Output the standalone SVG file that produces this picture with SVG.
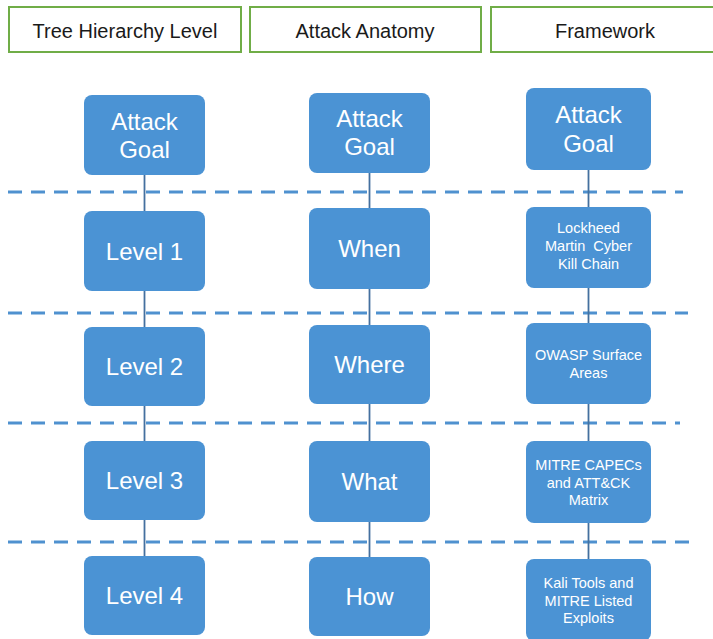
<svg xmlns="http://www.w3.org/2000/svg" width="713" height="639" viewBox="0 0 713 639">
<style>
.hdr{fill:#fff;stroke:#70ad47;stroke-width:2}
.ht{font-family:"Liberation Sans",Arial,sans-serif;font-size:20px;fill:#1a1a1a;text-anchor:middle}
.box{fill:#4b93d4}
.bt{font-family:"Liberation Sans",Arial,sans-serif;font-size:24px;fill:#fff;text-anchor:middle}
.st{font-family:"Liberation Sans",Arial,sans-serif;font-size:14.5px;fill:#fff;text-anchor:middle}
.dash{stroke:#4f91cf;stroke-width:3;stroke-dasharray:14 9;fill:none}
.conn{stroke:#44709f;stroke-width:1.8;fill:none}
</style>
<rect width="713" height="639" fill="#fff"/>
<g id="headers">
<g id="h1"><rect class="hdr" x="9" y="7" width="232" height="45"/><text class="ht" x="125" y="38">Tree Hierarchy Level</text></g>
<g id="h2"><rect class="hdr" x="250" y="7" width="231" height="45"/><text class="ht" x="365" y="38">Attack Anatomy</text></g>
<g id="h3"><rect class="hdr" x="491" y="7" width="240" height="45"/><text class="ht" x="605" y="38">Framework</text></g>
</g>
<g id="separators">
<line class="dash" x1="8" y1="192" x2="683" y2="192"/>
<line class="dash" x1="8" y1="313" x2="688" y2="313"/>
<line class="dash" x1="8" y1="423" x2="680" y2="423"/>
<line class="dash" x1="8" y1="542" x2="689" y2="542"/>
</g>
<g id="connectors">
<line class="conn" x1="144.5" y1="175" x2="144.5" y2="211"/>
<line class="conn" x1="144.5" y1="291" x2="144.5" y2="327"/>
<line class="conn" x1="144.5" y1="406" x2="144.5" y2="441"/>
<line class="conn" x1="144.5" y1="520" x2="144.5" y2="556"/>
<line class="conn" x1="369.5" y1="173" x2="369.5" y2="208"/>
<line class="conn" x1="369.5" y1="289" x2="369.5" y2="325"/>
<line class="conn" x1="369.5" y1="404" x2="369.5" y2="441"/>
<line class="conn" x1="369.5" y1="522" x2="369.5" y2="557"/>
<line class="conn" x1="588.5" y1="170" x2="588.5" y2="207"/>
<line class="conn" x1="588.5" y1="288" x2="588.5" y2="323"/>
<line class="conn" x1="588.5" y1="404" x2="588.5" y2="441"/>
<line class="conn" x1="588.5" y1="523" x2="588.5" y2="559"/>
</g>
<g id="c1-goal"><rect class="box" x="84" y="95" width="121" height="80" rx="8"/><text class="bt" x="144.5" y="130">Attack</text><text class="bt" x="144.5" y="158">Goal</text></g>
<g id="c1-l1"><rect class="box" x="84" y="211" width="121" height="80" rx="8"/><text class="bt" x="144.5" y="260">Level 1</text></g>
<g id="c1-l2"><rect class="box" x="84" y="327" width="121" height="79" rx="8"/><text class="bt" x="144.5" y="375">Level 2</text></g>
<g id="c1-l3"><rect class="box" x="84" y="441" width="121" height="79" rx="8"/><text class="bt" x="144.5" y="489">Level 3</text></g>
<g id="c1-l4"><rect class="box" x="84" y="556" width="121" height="79" rx="8"/><text class="bt" x="144.5" y="604">Level 4</text></g>
<g id="c2-goal"><rect class="box" x="309" y="93" width="121" height="80" rx="8"/><text class="bt" x="369.5" y="127">Attack</text><text class="bt" x="369.5" y="155">Goal</text></g>
<g id="c2-when"><rect class="box" x="309" y="208" width="121" height="81" rx="8"/><text class="bt" x="369.5" y="257">When</text></g>
<g id="c2-where"><rect class="box" x="309" y="325" width="121" height="79" rx="8"/><text class="bt" x="369.5" y="373">Where</text></g>
<g id="c2-what"><rect class="box" x="309" y="441" width="121" height="81" rx="8"/><text class="bt" x="369.5" y="490">What</text></g>
<g id="c2-how"><rect class="box" x="309" y="557" width="121" height="79" rx="8"/><text class="bt" x="369.5" y="605">How</text></g>
<g id="c3-goal"><rect class="box" x="526" y="88" width="125" height="82" rx="8"/><text class="bt" x="588.5" y="123">Attack</text><text class="bt" x="588.5" y="152">Goal</text></g>
<g id="c3-lockheed"><rect class="box" x="526" y="207" width="125" height="81" rx="8"/><text class="st" x="588.5" y="233">Lockheed</text><text class="st" x="588.5" y="251" xml:space="preserve">Martin  Cyber</text><text class="st" x="588.5" y="268.5">Kill Chain</text></g>
<g id="c3-owasp"><rect class="box" x="526" y="323" width="125" height="81" rx="8"/><text class="st" x="588.5" y="360">OWASP Surface</text><text class="st" x="588.5" y="378">Areas</text></g>
<g id="c3-mitre"><rect class="box" x="526" y="441" width="125" height="82" rx="8"/><text class="st" x="588.5" y="470">MITRE CAPECs</text><text class="st" x="588.5" y="487.5">and ATT&amp;CK</text><text class="st" x="588.5" y="505">Matrix</text></g>
<g id="c3-kali"><rect class="box" x="526" y="559" width="125" height="82" rx="8"/><text class="st" x="588.5" y="588">Kali Tools and</text><text class="st" x="588.5" y="605.5">MITRE Listed</text><text class="st" x="588.5" y="623">Exploits</text></g>
</svg>
